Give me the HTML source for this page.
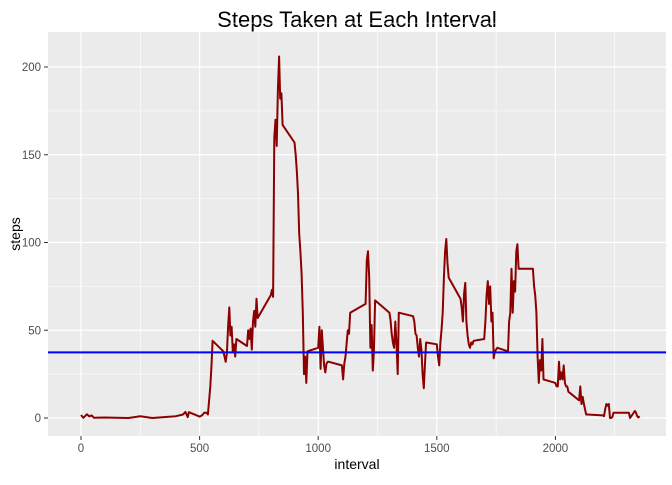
<!DOCTYPE html>
<html><head><meta charset="utf-8"><style>
body{margin:0;background:#fff;font-family:"Liberation Sans",Arial,sans-serif}
svg text{font-family:"Liberation Sans",Arial,sans-serif}
</style></head><body>
<svg id="c" width="672" height="480" xmlns="http://www.w3.org/2000/svg">
<text x="357" y="27" font-size="22" text-anchor="middle" fill="#000">Steps Taken at Each Interval</text>
<rect x="48" y="32" width="618" height="404" fill="#ebebeb"/>
<g id="grid"></g><g id="marks"></g><g id="axes"></g>
<text x="357" y="469" font-size="14" text-anchor="middle" fill="#000">interval</text>
<text x="0" y="0" font-size="14" text-anchor="middle" fill="#000" transform="translate(20,234) rotate(-90)">steps</text>
</svg>
<script>
const intervals=[0,10,25,35,45,55,100,200,250,300,400,430,440,450,455,500,510,520,530,535,540,545,550,555,600,610,615,620,625,630,635,640,645,650,655,700,705,710,715,720,725,730,735,740,745,800,805,810,815,820,825,830,835,840,845,850,900,905,910,915,920,925,930,935,940,945,950,955,1000,1005,1010,1015,1025,1030,1035,1040,1045,1100,1105,1110,1115,1120,1125,1130,1135,1200,1205,1210,1215,1220,1225,1230,1235,1240,1300,1305,1310,1315,1320,1325,1330,1335,1340,1400,1405,1410,1415,1420,1425,1430,1435,1440,1445,1450,1455,1500,1505,1510,1515,1520,1525,1530,1535,1540,1545,1550,1600,1605,1610,1615,1620,1625,1630,1635,1640,1645,1650,1655,1700,1705,1710,1715,1720,1725,1730,1735,1740,1745,1750,1755,1800,1805,1810,1815,1820,1825,1830,1835,1840,1845,1900,1905,1910,1915,1920,1925,1930,1935,1940,1945,1950,2000,2005,2010,2015,2020,2025,2030,2035,2040,2045,2050,2055,2100,2105,2110,2115,2120,2125,2130,2135,2200,2205,2210,2215,2220,2225,2230,2235,2240,2245,2300,2305,2310,2315,2320,2325,2330,2335,2340,2345,2350,2355];
const steps=[1.7,0.1,2.1,0.9,1.5,0.1,0.3,0,1,0,1,2,3.5,0.5,3.3,0.8,1.5,3,3,2,10,18,30,44,38,32,37,52,63,47,52,38,42,35,45,41,50,45,51,39,55,61,52,68,57,70,73,69,160,170,155,187,206,182,185,167,157,150,140,128,105,95,82,60,25,35,20,38,40,52,28,50,30,26,31,32,32,30,22,31,35,43,50,48,60,65,90,95,80,40,53,27,38,67,60,56,48,43,40,55,42,25,60,58,55,48,47,40,35,45,39,25,17,30,43,42,35,30,43,50,60,80,95,102,88,80,68,63,55,71,77,55,47,42,40,43,42,44,45,55,70,78,65,75,55,60,34,38,39,40,38,55,60,85,60,78,72,95,99,85,85,85,75,70,60,35,20,33,27,45,22,20,18,18,32,22,26,22,30,20,18,18,15,10,18,8,12,8,5,2,2,1.5,1,5,8,7,8,0,0,0.5,3,3,3,3,0,1,2,3,4,3,1,0.3,1];
const meanSteps=[37.38];
const xTicks=[0,500,1000,1500,2000];
const yTicks=[0,50,100,150,200];
const X=v=>81+v*0.2372, Y=v=>418-v*1.755;
const NS="http://www.w3.org/2000/svg";
function mk(t,a,p){const e=document.createElementNS(NS,t);for(const k in a)e.setAttribute(k,a[k]);p.appendChild(e);return e;}
const grid=document.getElementById('grid'),axes=document.getElementById('axes'),marks=document.getElementById('marks');
for(let i=0;i<xTicks.length;i++){const v=xTicks[i];
 if(i<xTicks.length){const m=mk('line',{x1:X(v+250),x2:X(v+250),y1:32,y2:436,stroke:'#fff','stroke-width':0.6},grid);
 
 }
 const g=mk('line',{x1:X(v),x2:X(v),y1:32,y2:436,stroke:'#fff','stroke-width':1.2},grid);
 
 
 mk('line',{x1:X(v),x2:X(v),y1:436,y2:440,stroke:'#333'},axes);
 const t=mk('text',{x:X(v),y:452,'font-size':11.5,'text-anchor':'middle',fill:'#4d4d4d'},axes);t.textContent=v;
 
 }
for(let i=0;i<yTicks.length;i++){const v=yTicks[i];
 const m=mk('line',{x1:48,x2:666,y1:Y(v+25),y2:Y(v+25),stroke:'#fff','stroke-width':0.6},grid);
 
 
 const g=mk('line',{x1:48,x2:666,y1:Y(v),y2:Y(v),stroke:'#fff','stroke-width':1.2},grid);
 
 
 mk('line',{x1:44,x2:48,y1:Y(v),y2:Y(v),stroke:'#333'},axes);
 const t=mk('text',{x:41,y:Y(v)+4,'font-size':11.5,'text-anchor':'end',fill:'#4d4d4d'},axes);t.textContent=v;
 
 }
const pl=mk('polyline',{points:intervals.map((v,i)=>X(v).toFixed(1)+','+Y(steps[i]).toFixed(1)).join(' '),fill:'none',stroke:'#8b0000','stroke-width':2,'stroke-linejoin':'round'},marks);


const ml=mk('line',{x1:48,x2:666,y1:Y(meanSteps[0]),y2:Y(meanSteps[0]),stroke:'#0000ff','stroke-width':2},marks);


</script>
</body></html>
